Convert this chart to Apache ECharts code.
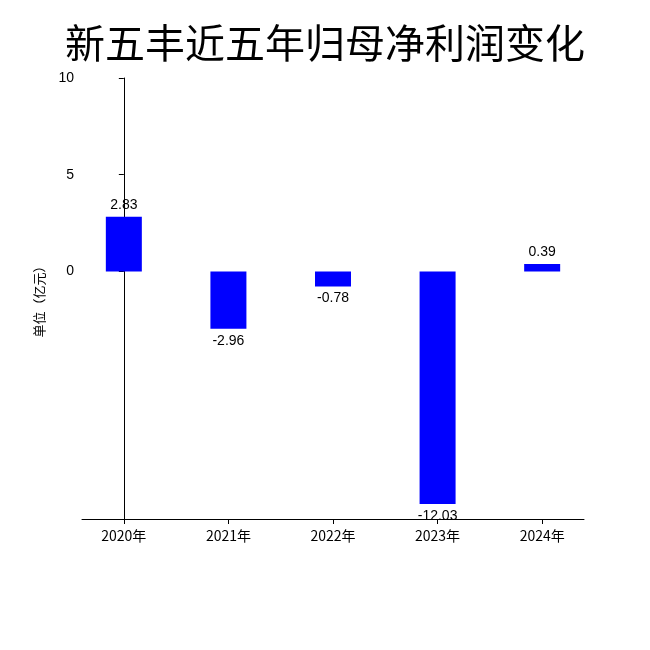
<!DOCTYPE html>
<html><head><meta charset="utf-8">
<script src="https://cdn.jsdelivr.net/npm/echarts@6/dist/echarts.min.js"></script>
<style>html,body{margin:0;background:#fff}#c{width:650px;height:650px}</style>
</head><body><div id="c"></div>
<script>
const categories = ['2020年','2021年','2022年','2023年','2024年'];
const values = [2.83, -2.96, -0.78, -12.03, 0.39];
const yTicks = [0, 5, 10];
const xTicks = [0, 1, 2, 3, 4];
const chart = echarts.init(document.getElementById('c'));
chart.setOption({
  animation:false,
  title:{text:'新五丰近五年归母净利润变化',left:'center',top:18,textStyle:{fontSize:40,fontWeight:'normal',color:'#000',fontFamily:'Noto Sans CJK SC'}},
  grid:{left:82,right:66,top:78,bottom:131},
  xAxis:{type:'value',min:-0.4,max:4.4,splitLine:{show:false},axisLine:{onZero:false,lineStyle:{color:'#000'}},
    axisTick:{customValues:xTicks,lineStyle:{color:'#000'}},
    axisLabel:{customValues:xTicks,formatter:v=>categories[Math.round(v)],color:'#000',fontSize:14,margin:10,fontFamily:'Noto Sans CJK SC'}},
  yAxis:{type:'value',min:-12.8,max:10,name:'单位（亿元）',nameLocation:'middle',nameGap:36,nameRotate:90,
    nameTextStyle:{color:'#000',fontSize:13,fontFamily:'Noto Sans CJK SC'},
    splitLine:{show:false},axisLine:{show:true,lineStyle:{color:'#000'}},
    axisTick:{show:true,customValues:yTicks,lineStyle:{color:'#000'}},
    axisLabel:{customValues:yTicks,color:'#000',fontSize:14}},
  series:[{type:'bar',barWidth:36,itemStyle:{color:'#0000ff'},
    data:values.map((v,i)=>({value:[i,v],label:{position:v<0?'bottom':'top'}})),
    label:{show:true,color:'#000',fontSize:14,formatter:p=>p.value[1].toFixed(2)}}]
});
</script></body></html>
